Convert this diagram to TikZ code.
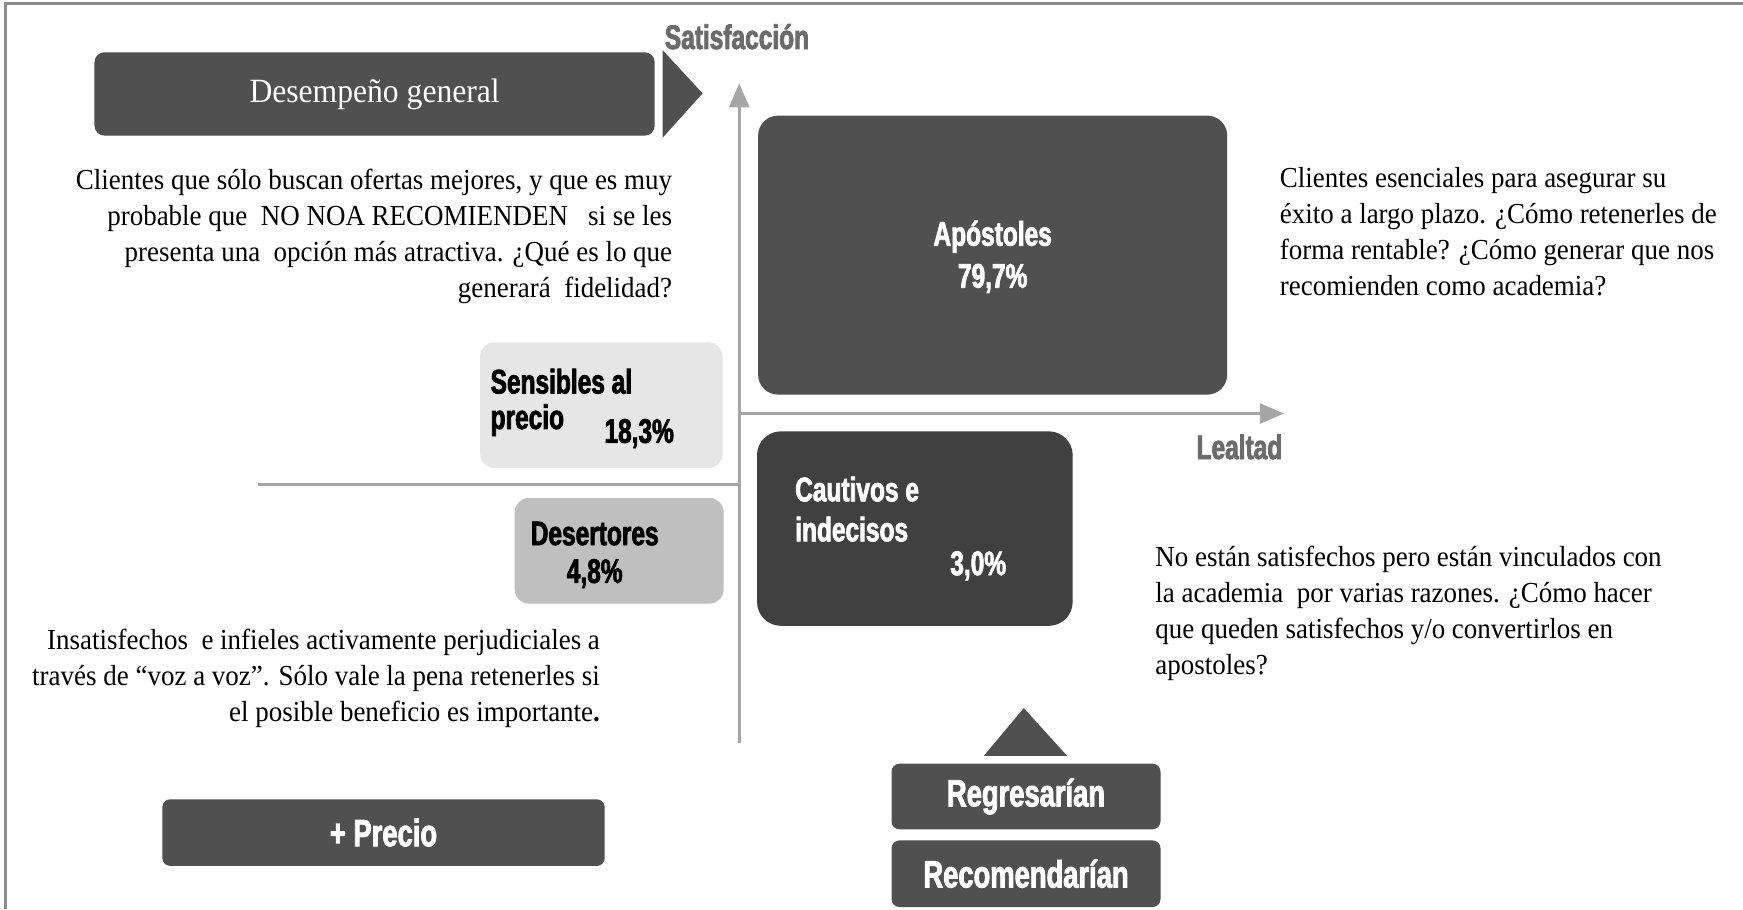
\documentclass[tikz,border=0pt]{standalone}
\usepackage{fontspec}
\setmainfont{Liberation Serif}[FakeStretch=0.93]
\newfontfamily\condfont{Liberation Sans}[FakeStretch=0.72, FakeBold=2.2]
\usetikzlibrary{positioning,arrows.meta}
\newcommand\pxu{0.5558pt}
\definecolor{boxdark}{HTML}{505050}
\definecolor{boxdarker}{HTML}{404040}
\definecolor{boxlight}{HTML}{E6E6E6}
\definecolor{boxmid}{HTML}{BFBFBF}
\definecolor{axisgray}{HTML}{A6A6A6}
\definecolor{labelgray}{HTML}{6B6B6B}
\definecolor{framegray}{HTML}{8C8C8C}
\tikzset{
  quadbox/.style={rounded corners=7pt, inner sep=0pt},
  tagbox/.style={quadbox, fill=boxdark, rounded corners=4pt, text=white,
    font=\condfont\bfseries\fontsize{19}{21}\selectfont},
  seglabel/.style={font=\condfont\bfseries\fontsize{17}{19}\selectfont, inner sep=0pt},
  axislabel/.style={seglabel, text=labelgray},
  para/.style={font=\fontsize{14.5}{18}\selectfont, inner sep=0pt},
  axisline/.style={axisgray, line width=1.5pt}
}
\begin{document}
\begin{tikzpicture}[x=\pxu, y=-\pxu]
		\useasboundingbox (0,0) rectangle (1568,818);
		\draw[framegray, line width=1.3pt] (5,818) -- (5,3) -- (1568,3);
		
		\node[quadbox, fill=boxdark, rounded corners=5pt, minimum width=504*\pxu, minimum height=75*\pxu,
		  text=white, font=\fontsize{17}{19}\selectfont] (desem) at (337,84.5) {Desempe\~no general};
		\fill[boxdark] (596,45) -- (632,84) -- (596,124) -- cycle;
		
		\coordinate (orig) at (665,372);
		\coordinate (ytop) at (665,75);
		\coordinate (ybot) at (665,668);
		\coordinate (xend) at (1155,372);
		\coordinate (lcut) at (665,436);
		\coordinate (lend) at (232,436);
		\draw[axisline, -{Triangle[length=12pt,width=10pt]}] (ybot) -- (ytop);
		\draw[axisline, -{Triangle[length=12pt,width=10pt]}] (orig) -- (xend);
		\draw[axisline] (lend) -- (lcut);
		\node[axislabel] (satis) at (663,33) {Satisfacción};
		\node[axislabel] (leal) at (1115,402) {Lealtad};
		
		\node[quadbox, fill=boxdark, rounded corners=10pt, minimum width=422*\pxu, minimum height=251*\pxu] (apost) at (893,229.5) {};
		\node[seglabel, text=white, align=center, font=\condfont\bfseries\fontsize{17}{21}\selectfont] (apostt) at (893,231) {Apóstoles\\79,7\%};
		
		\node[quadbox, fill=boxlight, minimum width=218*\pxu, minimum height=113*\pxu] (sens) at (541,364.5) {};
		\node[seglabel, anchor=west] (sensa) at (441,343) {Sensibles al};
		\node[seglabel, anchor=west] (sensb) at (441,378) {precio};
		\node[seglabel] (sensc) at (575,390) {18,3\%};
		
		\node[quadbox, fill=boxmid, minimum width=188*\pxu, minimum height=95*\pxu] (desert) at (557,495.5) {};
		\node[seglabel] (deserta) at (535,480) {Desertores};
		\node[seglabel] (desertb) at (535,516) {4,8\%};
		
		\node[quadbox, fill=boxdarker, rounded corners=12pt, minimum width=284*\pxu, minimum height=175*\pxu] (cauti) at (823,475.5) {};
		\node[seglabel, text=white, anchor=west] (cautia) at (715,440) {Cautivos e};
		\node[seglabel, text=white, anchor=west] (cautib) at (715,476) {indecisos};
		\node[seglabel, text=white] (cautic) at (880,509) {3,0\%};
		
		\fill[boxdark] (885,680) -- (921,637) -- (960,680) -- cycle;
		\node[tagbox, minimum width=242*\pxu, minimum height=59*\pxu] (regre) at (923,716.5) {Regresarían};
		\node[tagbox, minimum width=242*\pxu, minimum height=60*\pxu] (recom) at (923,786) {Recomendarían};
		\node[tagbox, minimum width=398*\pxu, minimum height=60*\pxu] (prec) at (345,749) {+ Precio};
		
		\node[para, anchor=east, align=right] (txtsens) at (605,213) {Clientes que sólo buscan ofertas mejores, y que es muy\\
		  probable que~ NO NOA RECOMIENDEN~~ si se les\\
		  presenta una~ opción más atractiva. ¿Qué es lo que\\
		  generará~ fidelidad?};
		\node[para, anchor=west, align=left] (txtapost) at (1151,208) {Clientes esenciales para asegurar su\\
		  éxito a largo plazo. ¿Cómo retenerles de\\
		  forma rentable? ¿Cómo generar que nos\\
		  recomienden como academia?};
		\node[para, anchor=west, align=left] (txtcauti) at (1039,552) {No están satisfechos pero están vinculados con\\
		  la academia~ por varias razones. ¿Cómo hacer\\
		  que queden satisfechos y/o convertirlos en\\
		  apostoles?};
		\node[para, anchor=east, align=right] (txtdesert) at (540,610) {Insatisfechos~ e infieles activamente perjudiciales a\\
		  través de “voz a voz”. Sólo vale la pena retenerles si\\
		  el posible beneficio es importante\textbf{.}};
		
	\end{tikzpicture}
\end{document}
